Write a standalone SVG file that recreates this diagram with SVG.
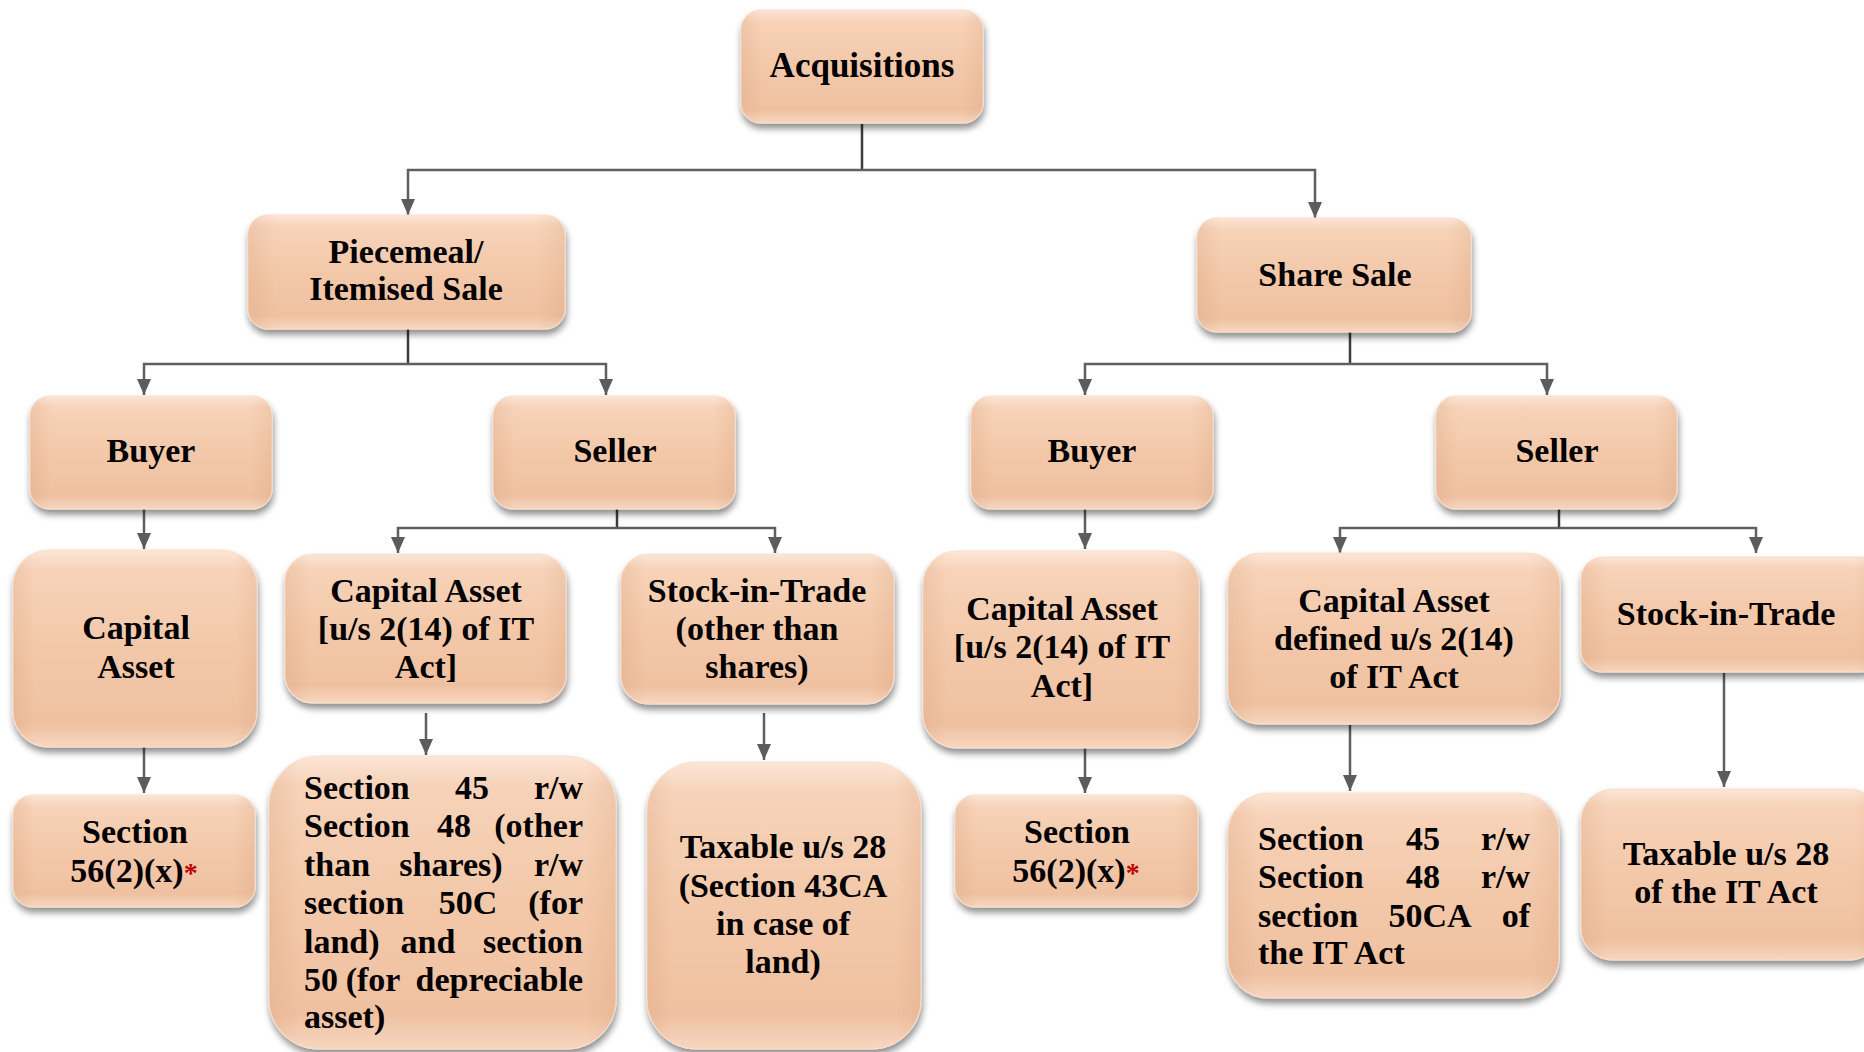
<svg xmlns="http://www.w3.org/2000/svg" width="1864" height="1052" viewBox="0 0 1864 1052">
  <defs>
    <!-- peach fill: light top rim, warm body, slightly lighter bottom rim -->
    <linearGradient id="fillV" x1="0" y1="0" x2="0" y2="1">
      <stop offset="0" stop-color="#FCE6D6"/>
      <stop offset="0.1" stop-color="#F7D3B9"/>
      <stop offset="0.5" stop-color="#F3C8A9"/>
      <stop offset="0.88" stop-color="#EFC1A1"/>
      <stop offset="1" stop-color="#F7D6BF"/>
    </linearGradient>
    <!-- darker side bands for the bevel look -->
    <linearGradient id="edgeH" x1="0" y1="0" x2="1" y2="0">
      <stop offset="0" stop-color="#C98B63" stop-opacity="0.18"/>
      <stop offset="0.09" stop-color="#C98B63" stop-opacity="0"/>
      <stop offset="0.91" stop-color="#C98B63" stop-opacity="0"/>
      <stop offset="1" stop-color="#C98B63" stop-opacity="0.16"/>
    </linearGradient>
    <filter id="shadow" x="-10%" y="-10%" width="125%" height="135%">
      <feGaussianBlur in="SourceAlpha" stdDeviation="3.5"/>
      <feOffset dx="1" dy="5" result="b"/>
      <feComponentTransfer><feFuncA type="linear" slope="0.45"/></feComponentTransfer>
      <feMerge><feMergeNode/><feMergeNode in="SourceGraphic"/></feMerge>
    </filter>
    <marker id="ah" viewBox="0 0 16 14" markerWidth="16" markerHeight="14" refX="16" refY="7" orient="auto" markerUnits="userSpaceOnUse">
      <path d="M0,0 L16,7 L0,14 Z" fill="#5C5C5C"/>
    </marker>
  </defs>
  <style>
    .box { fill: url(#fillV); stroke: #FADFCC; stroke-width: 1.2; filter: url(#shadow); }
    .bev { fill: url(#edgeH); }
    .t { font-family: "Liberation Serif", "DejaVu Serif", serif; font-weight: bold; font-size: 34px; fill: #000; text-anchor: middle; }
    .l { text-anchor: start; }
    .r { text-anchor: end; }
    .star { fill: #C00000; font-size: 28px; }
    .stem { fill: none; stroke: #3C3C3C; stroke-width: 2.5; }
    .wire { fill: none; stroke: #5F5F5F; stroke-width: 2.5; }
    .arr { fill: none; stroke: #5F5F5F; stroke-width: 2.5; marker-end: url(#ah); }
  </style>

  <rect width="1864" height="1052" fill="#FFFFFF"/>

  <!-- connectors -->
  <g id="connectors">
    <path class="stem" d="M862,124 V170"/>
    <path class="arr" d="M862,170 H408 V215"/>
    <path class="arr" d="M862,170 H1315 V218"/>

    <path class="stem" d="M408,329 V364"/>
    <path class="arr" d="M408,364 H144 V395"/>
    <path class="arr" d="M408,364 H606 V395"/>

    <path class="stem" d="M1350,332 V364"/>
    <path class="arr" d="M1350,364 H1085 V395"/>
    <path class="arr" d="M1350,364 H1547 V395"/>

    <path class="arr" d="M144,509 V549"/>
    <path class="stem" d="M617,509 V528"/>
    <path class="arr" d="M617,528 H398 V553"/>
    <path class="arr" d="M617,528 H775 V553"/>

    <path class="arr" d="M1085,509 V549"/>
    <path class="stem" d="M1559,509 V528"/>
    <path class="arr" d="M1559,528 H1340 V553"/>
    <path class="arr" d="M1559,528 H1756 V553"/>

    <path class="arr" d="M144,747 V793"/>
    <path class="arr" d="M426,713 V755"/>
    <path class="arr" d="M764,713 V760"/>
    <path class="arr" d="M1085,748 V793"/>
    <path class="arr" d="M1350,725 V791"/>
    <path class="arr" d="M1724,673 V787"/>
  </g>

  <!-- level 0 -->
  <g id="acquisitions">
    <rect class="box" x="741" y="10" width="242" height="113" rx="20"/>
    <rect class="bev" x="741" y="10" width="242" height="113" rx="20"/>
    <text class="t" x="862" y="77" style="font-size:35px">Acquisitions</text>
  </g>

  <!-- level 1 -->
  <g id="piecemeal">
    <rect class="box" x="248" y="215" width="317" height="114" rx="20"/>
    <rect class="bev" x="248" y="215" width="317" height="114" rx="20"/>
    <text class="t" x="406" y="263">Piecemeal/</text>
    <text class="t" x="406" y="300">Itemised Sale</text>
  </g>
  <g id="share-sale">
    <rect class="box" x="1197" y="218" width="274" height="114" rx="20"/>
    <rect class="bev" x="1197" y="218" width="274" height="114" rx="20"/>
    <text class="t" x="1335" y="286">Share Sale</text>
  </g>

  <!-- level 2 -->
  <g id="buyer-piecemeal">
    <rect class="box" x="30" y="396" width="242" height="113" rx="20"/>
    <rect class="bev" x="30" y="396" width="242" height="113" rx="20"/>
    <text class="t" x="151" y="462">Buyer</text>
  </g>
  <g id="seller-piecemeal">
    <rect class="box" x="493" y="396" width="242" height="113" rx="20"/>
    <rect class="bev" x="493" y="396" width="242" height="113" rx="20"/>
    <text class="t" x="615" y="462">Seller</text>
  </g>
  <g id="buyer-share">
    <rect class="box" x="971" y="396" width="242" height="113" rx="20"/>
    <rect class="bev" x="971" y="396" width="242" height="113" rx="20"/>
    <text class="t" x="1092" y="462">Buyer</text>
  </g>
  <g id="seller-share">
    <rect class="box" x="1436" y="396" width="241" height="113" rx="20"/>
    <rect class="bev" x="1436" y="396" width="241" height="113" rx="20"/>
    <text class="t" x="1557" y="462">Seller</text>
  </g>

  <!-- level 3 -->
  <g id="capital-asset-buyer">
    <rect class="box" x="13" y="550" width="244" height="197" rx="36"/>
    <rect class="bev" x="13" y="550" width="244" height="197" rx="36"/>
    <text class="t" x="136" y="639">Capital</text>
    <text class="t" x="136" y="678">Asset</text>
  </g>
  <g id="capital-asset-seller">
    <rect class="box" x="285" y="554" width="281" height="149" rx="28"/>
    <rect class="bev" x="285" y="554" width="281" height="149" rx="28"/>
    <text class="t" x="426" y="602">Capital Asset</text>
    <text class="t" x="426" y="640">[u/s 2(14) of IT</text>
    <text class="t" x="426" y="678">Act]</text>
  </g>
  <g id="stock-seller">
    <rect class="box" x="621" y="554" width="273" height="150" rx="28"/>
    <rect class="bev" x="621" y="554" width="273" height="150" rx="28"/>
    <text class="t" x="757" y="602">Stock-in-Trade</text>
    <text class="t" x="757" y="640">(other than</text>
    <text class="t" x="757" y="678">shares)</text>
  </g>
  <g id="capital-asset-share-buyer">
    <rect class="box" x="923" y="551" width="276" height="197" rx="34"/>
    <rect class="bev" x="923" y="551" width="276" height="197" rx="34"/>
    <text class="t" x="1062" y="620">Capital Asset</text>
    <text class="t" x="1062" y="658">[u/s 2(14) of IT</text>
    <text class="t" x="1062" y="697">Act]</text>
  </g>
  <g id="capital-asset-share-seller">
    <rect class="box" x="1228" y="553" width="332" height="171" rx="32"/>
    <rect class="bev" x="1228" y="553" width="332" height="171" rx="32"/>
    <text class="t" x="1394" y="612">Capital Asset</text>
    <text class="t" x="1394" y="650">defined u/s 2(14)</text>
    <text class="t" x="1394" y="688">of IT Act</text>
  </g>
  <g id="stock-share-seller">
    <rect class="box" x="1581" y="557" width="300" height="115" rx="22"/>
    <rect class="bev" x="1581" y="557" width="300" height="115" rx="22"/>
    <text class="t" x="1726" y="625">Stock-in-Trade</text>
  </g>

  <!-- level 4 -->
  <g id="sec56-piecemeal">
    <rect class="box" x="13" y="795" width="242" height="112" rx="20"/>
    <rect class="bev" x="13" y="795" width="242" height="112" rx="20"/>
    <text class="t" x="135" y="843">Section</text>
    <text class="t" x="134" y="882">56(2)(x)<tspan class="star">*</tspan></text>
  </g>
  <g id="sec45-piecemeal">
    <rect class="box" x="269" y="756" width="347" height="293" rx="50"/>
    <rect class="bev" x="269" y="756" width="347" height="293" rx="50"/>
    <text class="t l" x="304" y="799">Section</text>
    <text class="t" x="472" y="799">45</text>
    <text class="t r" x="583" y="799">r/w</text>
    <text class="t l" x="304" y="837">Section</text>
    <text class="t" x="454" y="837">48</text>
    <text class="t r" x="583" y="837">(other</text>
    <text class="t l" x="304" y="876">than</text>
    <text class="t" x="451" y="876">shares)</text>
    <text class="t r" x="583" y="876">r/w</text>
    <text class="t l" x="304" y="914">section</text>
    <text class="t" x="468" y="914">50C</text>
    <text class="t r" x="583" y="914">(for</text>
    <text class="t l" x="304" y="953">land)</text>
    <text class="t" x="428" y="953">and</text>
    <text class="t r" x="583" y="953">section</text>
    <text class="t l" x="304" y="991">50</text>
    <text class="t" x="373" y="991">(for</text>
    <text class="t r" x="583" y="991">depreciable</text>
    <text class="t l" x="304" y="1028">asset)</text>
  </g>
  <g id="taxable-piecemeal">
    <rect class="box" x="647" y="762" width="274" height="287" rx="50"/>
    <rect class="bev" x="647" y="762" width="274" height="287" rx="50"/>
    <text class="t" x="783" y="858">Taxable u/s 28</text>
    <text class="t" x="783" y="897">(Section 43CA</text>
    <text class="t" x="783" y="935">in case of</text>
    <text class="t" x="783" y="973">land)</text>
  </g>
  <g id="sec56-share">
    <rect class="box" x="955" y="795" width="243" height="112" rx="20"/>
    <rect class="bev" x="955" y="795" width="243" height="112" rx="20"/>
    <text class="t" x="1077" y="843">Section</text>
    <text class="t" x="1076" y="882">56(2)(x)<tspan class="star">*</tspan></text>
  </g>
  <g id="sec45-share">
    <rect class="box" x="1228" y="793" width="331" height="205" rx="40"/>
    <rect class="bev" x="1228" y="793" width="331" height="205" rx="40"/>
    <text class="t l" x="1258" y="850">Section</text>
    <text class="t" x="1423" y="850">45</text>
    <text class="t r" x="1530" y="850">r/w</text>
    <text class="t l" x="1258" y="888">Section</text>
    <text class="t" x="1423" y="888">48</text>
    <text class="t r" x="1530" y="888">r/w</text>
    <text class="t l" x="1258" y="927">section</text>
    <text class="t" x="1430" y="927">50CA</text>
    <text class="t r" x="1530" y="927">of</text>
    <text class="t l" x="1258" y="964">the IT Act</text>
  </g>
  <g id="taxable-share">
    <rect class="box" x="1581" y="789" width="300" height="171" rx="32"/>
    <rect class="bev" x="1581" y="789" width="300" height="171" rx="32"/>
    <text class="t" x="1726" y="865">Taxable u/s 28</text>
    <text class="t" x="1726" y="903">of the IT Act</text>
  </g>
</svg>
